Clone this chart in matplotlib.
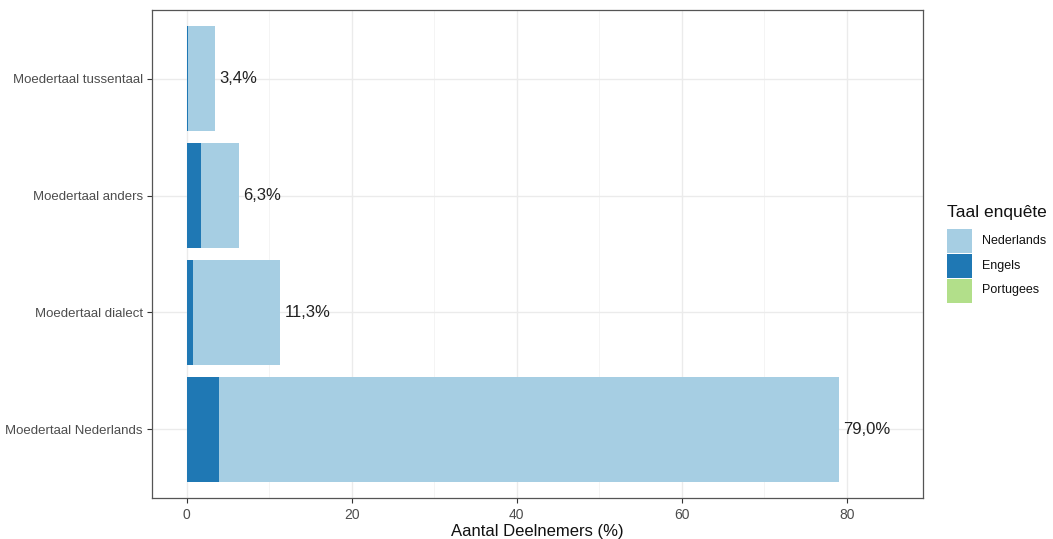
import matplotlib
matplotlib.use("Agg")
import matplotlib.pyplot as plt
from matplotlib.patches import Rectangle
import numpy as np

plt.rcParams['font.family'] = ['Liberation Sans', 'DejaVu Sans']

categories = ["Moedertaal Nederlands", "Moedertaal dialect", "Moedertaal anders", "Moedertaal tussentaal"]
totals = [79.0, 11.3, 6.3, 3.4]
engels = [3.9, 0.8, 1.7, 0.15]
portugees = [0.0, 0.0, 0.0, 0.0]
nederlands = [t - e - p for t, e, p in zip(totals, engels, portugees)]
legend_labels = ["Nederlands", "Engels", "Portugees"]
colors = {"Nederlands": "#A6CEE3", "Engels": "#1F78B4", "Portugees": "#B2DF8A"}
xticks = [0, 20, 40, 60, 80]

W, H = 1053, 539
fig = plt.figure(figsize=(W / 100, H / 100), dpi=100)
L, R, T, B = 152, 922.7, 10, 498
ax = fig.add_axes([L / W, 1 - B / H, (R - L) / W, (B - T) / H])

y = np.arange(len(categories))
left = np.zeros(len(categories))
for name, vals in [("Portugees", portugees), ("Engels", engels), ("Nederlands", nederlands)]:
    ax.barh(y, vals, left=left, height=0.9, color=colors[name], zorder=3, linewidth=0)
    left = left + np.array(vals)

for yi, t in zip(y, totals):
    ax.text(t + 0.6, yi, f"{t:.1f}%".replace(".", ","), va="center", ha="left",
            fontsize=12, color="#222222", zorder=4)

ax.set_xlim(-4.2, 89.2)
ax.set_ylim(-0.59, len(categories) - 0.41)
ax.set_xticks(xticks)
ax.set_xticks([10, 30, 50, 70], minor=True)
ax.set_yticks(y)
ax.set_yticklabels(categories)
ax.grid(True, which="major", color="#EBEBEB", linewidth=1.0, zorder=0)
ax.grid(True, which="minor", axis="x", color="#F2F2F2", linewidth=0.6, zorder=0)
ax.set_axisbelow(True)
for s in ax.spines.values():
    s.set_color("#555555")
    s.set_linewidth(0.9)
ax.tick_params(axis="both", which="major", length=3.5, width=0.8, color="#333333",
               labelcolor="#4D4D4D", labelsize=9.5, pad=3)
ax.tick_params(axis="x", which="major", pad=4, labelsize=10)
ax.tick_params(axis="x", which="minor", length=0)
ax.set_xlabel("Aantal Deelnemers (%)", fontsize=12, color="#111111", labelpad=1)

# legend
def px(x, yy):
    return x / W, 1 - yy / H

fig.text(*px(947, 213), "Taal enquête", fontsize=12.5, color="#111111", va="center", ha="left")
ky = 228
for name in legend_labels:
    x0, y0 = px(947, ky + 25)
    fig.patches.append(Rectangle((x0, y0), 25 / W, 24 / H, transform=fig.transFigure,
                                 facecolor=colors[name], edgecolor="none"))
    fig.text(*px(982, ky + 12.5), name, fontsize=9, color="#111111", va="center", ha="left")
    ky += 25

fig.savefig("out.png", dpi=100)
